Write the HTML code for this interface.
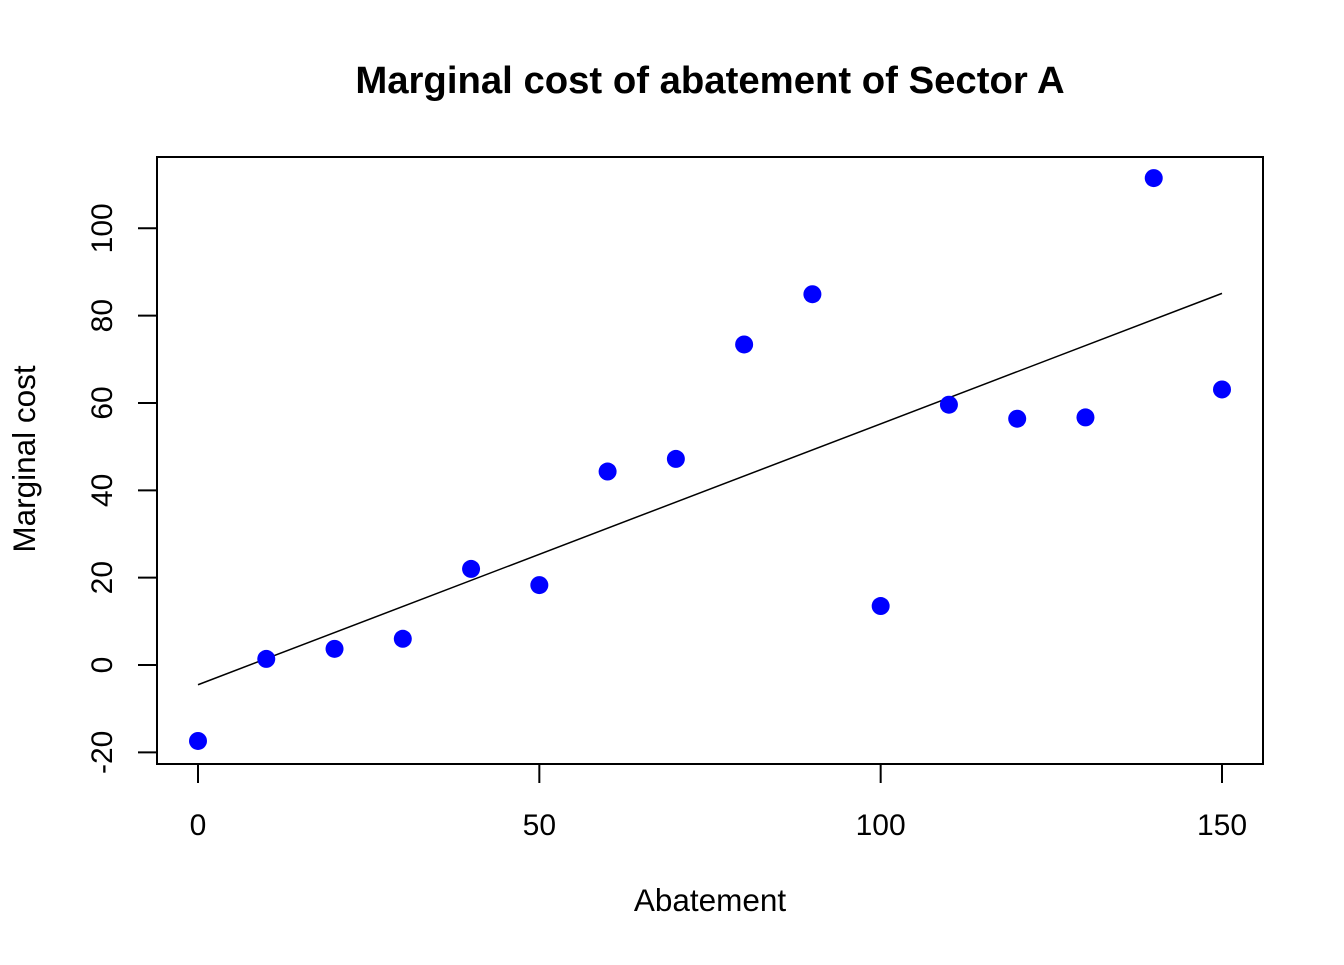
<!DOCTYPE html>
<html><head><meta charset="utf-8"><style>
body{margin:0;background:#fff}
svg text{font-family:"Liberation Sans",Arial,sans-serif;fill:#000}
</style></head><body>
<svg id="chart" width="1344" height="960" viewBox="0 0 1344 960">
<text x="710" y="93" font-size="38.3" font-weight="bold" text-anchor="middle">Marginal cost of abatement of Sector A</text>
<rect x="157" y="157" width="1106" height="607" fill="none" stroke="#000" stroke-width="2"/>
<text x="710" y="911" font-size="31.5" text-anchor="middle">Abatement</text>
<text transform="translate(35,459) rotate(-90)" font-size="31.5" text-anchor="middle">Marginal cost</text>
<g id="axes"></g><g id="marks"></g>
</svg>
<script>
const xs=[0,10,20,30,40,50,60,70,80,90,100,110,120,130,140,150];
const ys=[-17.4,1.4,3.7,6.0,22.0,18.3,44.3,47.2,73.4,84.9,13.5,59.6,56.4,56.7,111.5,63.1];
const xTicks=[0,50,100,150];
const yTicks=[-20,0,20,40,60,80,100];
const NS="http://www.w3.org/2000/svg";
const X=v=>198+v*(1222-198)/150;
const Y=v=>665-v*4.367;
const axes=document.getElementById('axes'),marks=document.getElementById('marks');
function mk(tag,attrs,parent){const e=document.createElementNS(NS,tag);for(const k in attrs)e.setAttribute(k,attrs[k]);parent.appendChild(e);return e;}
xTicks.forEach(t=>{
 const l=mk('line',{x1:X(t),x2:X(t),y1:764,y2:783,stroke:'#000','stroke-width':2},axes);
 
 
 const tx=mk('text',{x:X(t),y:835,'font-size':30,'text-anchor':'middle'},axes);
 tx.textContent=t;
 
 
});
yTicks.forEach(t=>{
 const l=mk('line',{x1:138,x2:157,y1:Y(t),y2:Y(t),stroke:'#000','stroke-width':2},axes);
 
 
 const tx=mk('text',{transform:`translate(112,${Y(t)}) rotate(-90)`,'font-size':30,'text-anchor':'middle'},axes);
 tx.textContent=t;
 
 
});
const n=xs.length,mx=xs.reduce((a,b)=>a+b)/n,my=ys.reduce((a,b)=>a+b)/n;
let sxy=0,sxx=0;xs.forEach((x,i)=>{sxy+=(x-mx)*(ys[i]-my);sxx+=(x-mx)*(x-mx);});
const b=sxy/sxx,a=my-b*mx;
const x0=Math.min(...xs),x1=Math.max(...xs);
const fl=mk('line',{x1:X(x0),y1:Y(a+b*x0),x2:X(x1),y2:Y(a+b*x1),stroke:'#000','stroke-width':1.5},marks);


xs.forEach((x,i)=>{
 const c=mk('circle',{cx:X(x),cy:Y(ys[i]),r:9,fill:'#0000ff'},marks);
 
 
});
</script>
</body></html>
